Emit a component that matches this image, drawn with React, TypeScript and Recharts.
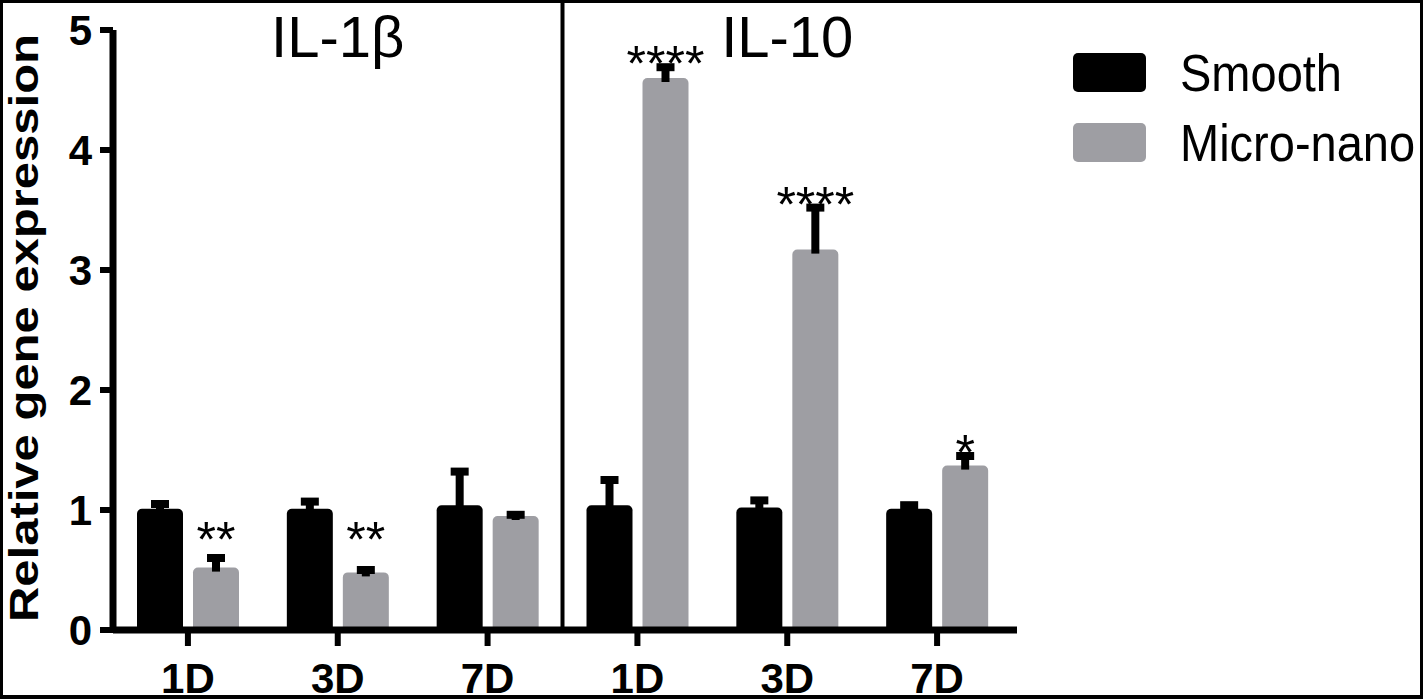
import React from 'react';
import { BarChart, Bar, XAxis, YAxis, ReferenceLine, Legend, Rectangle } from 'recharts';

const categories = ['IL1b-1D', 'IL1b-3D', 'IL1b-7D', 'IL10-1D', 'IL10-3D', 'IL10-7D'];
const dayLabels = ['1D', '3D', '7D', '1D', '3D', '7D'];
const seriesNames = ['Smooth', 'Micro-nano'];
const smooth = [1.01, 1.01, 1.04, 1.04, 1.02, 1.01];
const smoothErr = [0.04, 0.06, 0.28, 0.21, 0.06, 0.03];
const microNano = [0.52, 0.48, 0.95, 4.6, 3.17, 1.37];
const microNanoErr = [0.08, 0.02, 0.01, 0.09, 0.35, 0.08];
const significance = ['**', '**', '', '****', '****', '*'];
const yTicks = [0, 1, 2, 3, 4, 5];
const panels = [
  { title: 'IL-1β', centre: 'IL1b-3D' },
  { title: 'IL-10', centre: 'IL10-3D' },
];

const FONT = '"Liberation Sans", Arial, Helvetica, sans-serif';
const GREY = '#9e9ea3';

const data = categories.map((key, i) => ({
  key,
  day: dayLabels[i],
  smooth: smooth[i],
  smoothErr: smoothErr[i],
  microNano: microNano[i],
  microNanoErr: microNanoErr[i],
  sig: significance[i],
}));

// bar + one-sided SEM whisker (+ stars), scaled off the bar the library drew
function barWithError(valueKey: string, errKey: string, withStars: boolean) {
  return (props: any) => {
    const { x, y, width, height, fill, payload } = props;
    const v = payload[valueKey];
    const ppu = height / v;
    const zeroY = y + height;
    const cx = x + width / 2;
    const errY = y - payload[errKey] * ppu;
    const capTop = errY - 4;
    let stars = null;
    if (withStars && payload.sig) {
      const bottom = Math.min(capTop - 4, zeroY - 0.79 * ppu);
      stars = (
        <text x={cx} y={bottom + 22} textAnchor="middle" fontSize={50} fill="#000" fontFamily={FONT}>
          {payload.sig}
        </text>
      );
    }
    return (
      <g>
        <Rectangle x={x} y={y} width={width} height={height} fill={fill} radius={[5, 5, 0, 0]} />
        <rect x={cx - 4} y={errY} width={8} height={y + 4 - errY} fill="#000" />
        <rect x={cx - 9} y={capTop} width={18} height={8} fill="#000" />
        {stars}
      </g>
    );
  };
}

const renderLegend = (props: any) => {
  const items = [...(props.payload || [])].sort(
    (a: any, b: any) => seriesNames.indexOf(a.value) - seriesNames.indexOf(b.value)
  );
  return (
    <div>
      {items.map((p: any) => (
        <div key={p.value} style={{ display: 'flex', alignItems: 'center', height: 70 }}>
          <div style={{ width: 73, height: 39, background: p.color, borderRadius: 5 }} />
          <span
            style={{
              marginLeft: 34,
              fontSize: 47,
              lineHeight: 1,
              color: '#000',
              display: 'inline-block',
              transform: 'scaleY(1.12)',
              whiteSpace: 'nowrap',
            }}
          >
            {p.value}
          </span>
        </div>
      ))}
    </div>
  );
};

const titleLabel = (text: string) => (p: any) => {
  const vb = p.viewBox || {};
  return (
    <text x={vb.x} y={vb.y + 27} textAnchor="middle" fontSize={58} fill="#000" fontFamily={FONT}>
      {text}
    </text>
  );
};

const yLabel = (p: any) => {
  const vb = p.viewBox || {};
  const lx = vb.x + 25;
  const ly = vb.y + vb.height / 2 - 2;
  return (
    <text
      x={lx}
      y={ly}
      transform={`rotate(-90 ${lx} ${ly})`}
      textAnchor="middle"
      fontSize={40}
      fontWeight="bold"
      fill="#000"
      fontFamily={FONT}
      textLength={588}
      lengthAdjust="spacingAndGlyphs"
    >
      Relative gene expression
    </text>
  );
};

export default function App() {
  return (
    <div style={{ position: 'absolute', left: 0, top: 0, width: 1427, height: 699, background: '#fff', fontFamily: FONT }}>
      <BarChart
        width={1427}
        height={699}
        data={data}
        margin={{ top: 30, right: 410, left: 13, bottom: 0 }}
        barSize={46}
        barGap={10}
      >
        <XAxis
          dataKey="key"
          height={69}
          padding={{ left: 0, right: 5 }}
          tickFormatter={(_v: any, i: number) => dayLabels[i]}
          axisLine={{ stroke: '#000', strokeWidth: 7 }}
          tickLine={{ stroke: '#000', strokeWidth: 6 }}
          tickSize={16}
          tickMargin={17}
          tick={{ fontSize: 42, fontWeight: 'bold', fill: '#000', fontFamily: FONT }}
          interval={0}
        />
        <YAxis
          width={100}
          domain={[0, 5]}
          ticks={yTicks}
          interval={0}
          axisLine={{ stroke: '#000', strokeWidth: 7 }}
          tickLine={{ stroke: '#000', strokeWidth: 6 }}
          tickSize={13}
          tickMargin={8}
          tick={{ fontSize: 42, fontWeight: 'bold', fill: '#000', fontFamily: FONT }}
          label={{ content: yLabel }}
        />
        <ReferenceLine
          segment={[{ x: 'IL10-1D', y: 0 }, { x: 'IL10-1D', y: 5.3 }]}
          position="start"
          ifOverflow="visible"
          stroke="#000"
          strokeWidth={4}
        />
        {panels.map((pn) => (
          <ReferenceLine key={pn.title} x={pn.centre} stroke="none" label={{ content: titleLabel(pn.title) }} />
        ))}
        <Legend
          layout="vertical"
          align="center"
          verticalAlign="middle"
          content={renderLegend}
          wrapperStyle={{ left: 1073, top: 37, width: 360 }}
        />
        <Bar
          dataKey="smooth"
          name={seriesNames[0]}
          fill="#000"
          isAnimationActive={false}
          shape={barWithError('smooth', 'smoothErr', false)}
        />
        <Bar
          dataKey="microNano"
          name={seriesNames[1]}
          fill={GREY}
          isAnimationActive={false}
          shape={barWithError('microNano', 'microNanoErr', true)}
        />
      </BarChart>
      <div
        style={{
          position: 'absolute',
          left: 0,
          top: 0,
          width: 1423,
          height: 699,
          boxSizing: 'border-box',
          border: '3px solid #000',
          borderBottomWidth: 4,
          pointerEvents: 'none',
        }}
      />
    </div>
  );
}
